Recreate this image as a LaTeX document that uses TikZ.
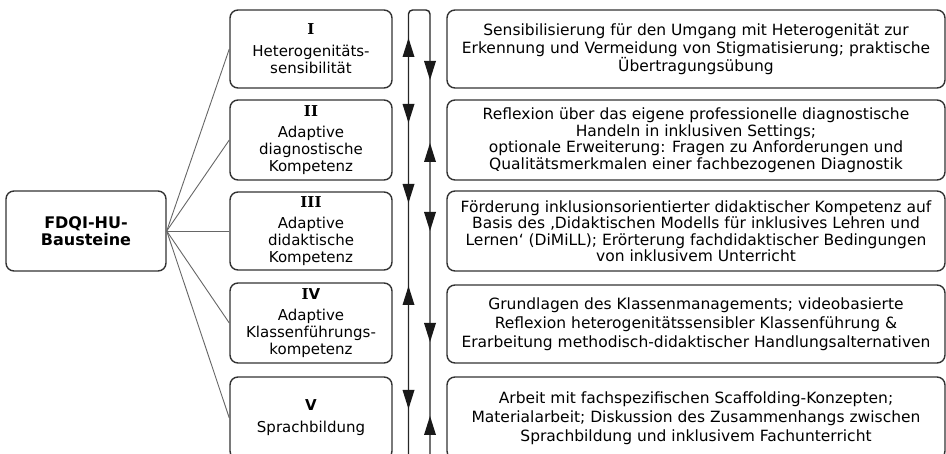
\documentclass[tikz,border=0pt]{standalone}
\usepackage{fontspec}
\setmainfont{DejaVu Sans}
\newfontfamily\numfont{DejaVu Serif}
\newcommand\rnum[1]{{\numfont\bfseries #1}}
\begin{document}
\begin{tikzpicture}[x=1pt,y=-1pt,
  box/.style={draw=black!80, line width=1.4pt, rounded corners=8pt, inner sep=0pt, align=center},
  lbox/.style={box, minimum width=162pt, font=\fontsize{15}{17}\selectfont},
  rbox/.style={box, minimum width=498pt, font=\fontsize{15.5}{18}\selectfont},
  conn/.style={draw=black!60, line width=0.9pt},
  col/.style={draw=black!85, line width=1.4pt},
  upa/.pic={\fill[black!90] (0,0) -- (-6,19) -- (6,19) -- cycle;},
  dna/.pic={\fill[black!90] (0,0) -- (-6,-19) -- (6,-19) -- cycle;}
]
\useasboundingbox (0,0) rectangle (946,454);

% root
\node[box, minimum width=160pt, minimum height=80pt, font=\fontsize{16}{17.5}\selectfont\bfseries] (fd) at (86,231) {FDQI-HU-\\Bausteine};

% left column
\node[lbox, minimum height=78pt] (l1) at (311,49) {\rnum{I}\\[5pt]Heterogenitäts-\\sensibilität};
\node[lbox, minimum height=80pt] (l2) at (311,140) {\rnum{II}\\[4pt]Adaptive\\diagnostische\\Kompetenz};
\node[lbox, minimum height=78pt] (l3) at (311,231) {\rnum{III}\\[4pt]Adaptive\\didaktische\\Kompetenz};
\node[lbox, minimum height=80pt] (l4) at (311,323) {\rnum{I}{\bfseries V}\\[4pt]Adaptive\\Klassenführungs-\\kompetenz};
\node[lbox, minimum height=82pt] (l5) at (311,418) {{\bfseries V}\\[5pt]Sprachbildung};

% right column
\node[rbox, minimum height=78pt] (r1) at (696,49) {Sensibilisierung für den Umgang mit Heterogenität zur\\Erkennung und Vermeidung von Stigmatisierung; praktische\\Übertragungsübung};
\node[rbox, minimum height=80pt, font=\fontsize{15.5}{16.5}\selectfont] (r2) at (696,140) {Reflexion über das eigene professionelle diagnostische\\Handeln in inklusiven Settings;\\optionale Erweiterung: Fragen zu Anforderungen und\\Qualitätsmerkmalen einer fachbezogenen Diagnostik};
\node[rbox, minimum height=80pt, font=\fontsize{15.5}{16.5}\selectfont] (r3) at (696,231) {Förderung inklusionsorientierter didaktischer Kompetenz auf\\Basis des ‚Didaktischen Modells für inklusives Lehren und\\Lernen‘ (DiMiLL); Erörterung fachdidaktischer Bedingungen\\von inklusivem Unterricht};
\node[rbox, minimum height=78pt, font=\fontsize{15.5}{19}\selectfont] (r4) at (696,324) {Grundlagen des Klassenmanagements; videobasierte\\Reflexion heterogenitätssensibler Klassenführung \&\\Erarbeitung methodisch-didaktischer Handlungsalternativen};
\node[rbox, minimum height=82pt, font=\fontsize{15.5}{19}\selectfont] (r5) at (696,418) {Arbeit mit fachspezifischen Scaffolding-Konzepten;\\Materialarbeit; Diskussion des Zusammenhangs zwischen\\Sprachbildung und inklusivem Fachunterricht};

% connectors
\foreach \n in {l1,l2,l3,l4,l5} \draw[conn] (fd.east) -- (\n.west);

% cycle column
\coordinate (cl) at (408.5,470);
\coordinate (cr) at (430,470);
\draw[col, rounded corners=4pt] (cl) -- (408.5,10) -- (430,10) -- (cr);
\pic at (408.5,38) {upa};
\pic at (408.5,123) {dna};
\pic at (408.5,203) {dna};
\pic at (408.5,286) {upa};
\pic at (408.5,409) {dna};
\pic at (430,80) {dna};
\pic at (430,143) {upa};
\pic at (430,231) {dna};
\pic at (430,342) {dna};
\pic at (430,416) {upa};
\end{tikzpicture}
\end{document}
